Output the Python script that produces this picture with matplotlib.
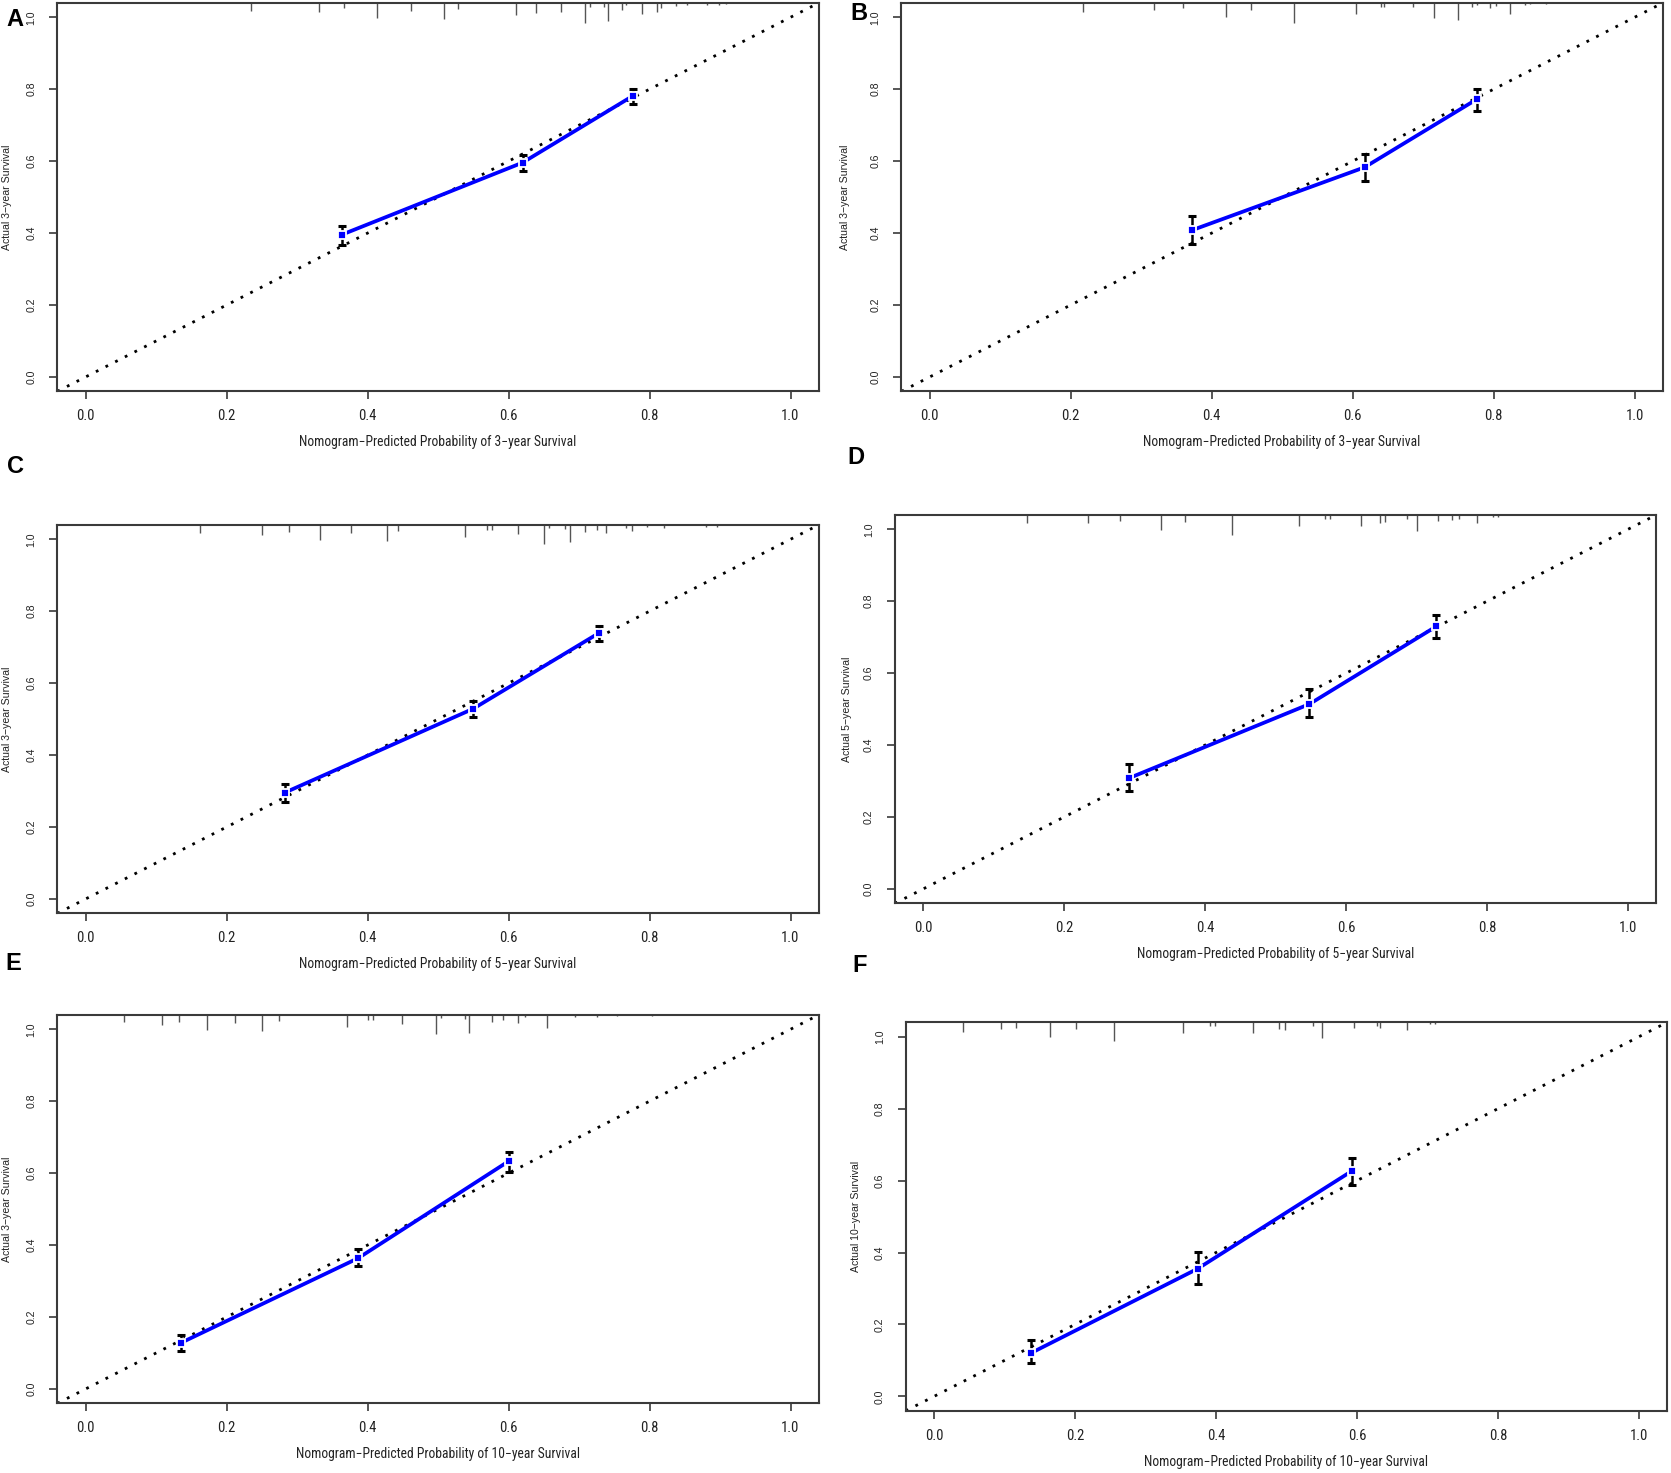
import matplotlib
matplotlib.use("Agg")
import matplotlib.pyplot as plt
from matplotlib import font_manager

# ---------------- data ----------------
panel_letters = ["A", "B", "C", "D", "E", "F"]
x_labels = [
    "Nomogram\u2212Predicted Probability of 3\u2212year Survival",
    "Nomogram\u2212Predicted Probability of 3\u2212year Survival",
    "Nomogram\u2212Predicted Probability of 5\u2212year Survival",
    "Nomogram\u2212Predicted Probability of 5\u2212year Survival",
    "Nomogram\u2212Predicted Probability of 10\u2212year Survival",
    "Nomogram\u2212Predicted Probability of 10\u2212year Survival",
]
y_labels = [
    "Actual 3\u2212year Survival",
    "Actual 3\u2212year Survival",
    "Actual 3\u2212year Survival",
    "Actual 5\u2212year Survival",
    "Actual 3\u2212year Survival",
    "Actual 10\u2212year Survival",
]
tick_values = [0.0, 0.2, 0.4, 0.6, 0.8, 1.0]
tick_labels = ["0.0", "0.2", "0.4", "0.6", "0.8", "1.0"]

pred_A = [0.364, 0.620, 0.776]
obs_A = [0.396, 0.596, 0.781]
low_A = [0.366, 0.573, 0.759]
up_A = [0.420, 0.617, 0.800]

pred_B = [0.372, 0.617, 0.776]
obs_B = [0.408, 0.583, 0.772]
low_B = [0.371, 0.545, 0.740]
up_B = [0.447, 0.620, 0.801]

pred_C = [0.283, 0.550, 0.728]
obs_C = [0.296, 0.529, 0.739]
low_C = [0.269, 0.506, 0.716]
up_C = [0.320, 0.551, 0.759]

pred_D = [0.292, 0.548, 0.728]
obs_D = [0.308, 0.514, 0.730]
low_D = [0.273, 0.477, 0.697]
up_D = [0.348, 0.556, 0.762]

pred_E = [0.135, 0.387, 0.600]
obs_E = [0.128, 0.364, 0.633]
low_E = [0.107, 0.341, 0.602]
up_E = [0.151, 0.389, 0.658]

pred_F = [0.137, 0.374, 0.593]
obs_F = [0.120, 0.355, 0.627]
low_F = [0.092, 0.313, 0.587]
up_F = [0.157, 0.401, 0.664]

# risk distribution spikes at top: positions and heights (data units)
rug_x_A = [0.235, 0.331, 0.366, 0.413, 0.461, 0.509, 0.529, 0.611, 0.639, 0.674, 0.708, 0.716,
           0.735, 0.741, 0.761, 0.767, 0.790, 0.810, 0.817, 0.837, 0.853, 0.881, 0.898, 0.909]
rug_h_A = [0.022, 0.026, 0.013, 0.041, 0.023, 0.044, 0.016, 0.033, 0.028, 0.026, 0.056, 0.011,
           0.011, 0.050, 0.020, 0.007, 0.030, 0.026, 0.013, 0.009, 0.007, 0.005, 0.005, 0.004]
rug_x_B = [0.217, 0.319, 0.359, 0.421, 0.456, 0.517, 0.605, 0.640, 0.645, 0.685, 0.715, 0.749,
           0.770, 0.776, 0.795, 0.803, 0.823, 0.844, 0.852, 0.874]
rug_h_B = [0.026, 0.020, 0.013, 0.039, 0.020, 0.056, 0.032, 0.011, 0.011, 0.011, 0.041, 0.048,
           0.011, 0.006, 0.015, 0.008, 0.032, 0.006, 0.004, 0.004]
rug_x_C = [0.162, 0.251, 0.288, 0.332, 0.377, 0.428, 0.443, 0.539, 0.569, 0.576, 0.613, 0.650,
           0.657, 0.680, 0.687, 0.708, 0.726, 0.738, 0.767, 0.775, 0.797, 0.820, 0.880, 0.896]
rug_h_C = [0.023, 0.028, 0.020, 0.041, 0.023, 0.045, 0.017, 0.033, 0.013, 0.013, 0.026, 0.054,
           0.009, 0.011, 0.048, 0.019, 0.015, 0.022, 0.009, 0.017, 0.007, 0.009, 0.005, 0.005]
rug_x_D = [0.147, 0.234, 0.280, 0.337, 0.372, 0.439, 0.533, 0.570, 0.577, 0.621, 0.648, 0.656,
           0.686, 0.701, 0.730, 0.751, 0.760, 0.786, 0.809, 0.816]
rug_h_D = [0.023, 0.023, 0.017, 0.042, 0.020, 0.056, 0.031, 0.011, 0.011, 0.031, 0.023, 0.020,
           0.011, 0.046, 0.017, 0.013, 0.011, 0.023, 0.005, 0.005]
rug_x_E = [0.054, 0.109, 0.133, 0.172, 0.212, 0.251, 0.275, 0.371, 0.401, 0.408, 0.449, 0.497,
           0.504, 0.539, 0.544, 0.576, 0.592, 0.614, 0.623, 0.655, 0.694, 0.726, 0.754, 0.803]
rug_h_E = [0.021, 0.028, 0.020, 0.041, 0.023, 0.044, 0.017, 0.033, 0.015, 0.013, 0.026, 0.054,
           0.009, 0.011, 0.050, 0.019, 0.015, 0.022, 0.007, 0.037, 0.006, 0.005, 0.004, 0.004]
rug_x_F = [0.041, 0.095, 0.117, 0.164, 0.202, 0.255, 0.353, 0.392, 0.399, 0.452, 0.490, 0.498,
           0.537, 0.551, 0.596, 0.628, 0.633, 0.671, 0.703, 0.710]
rug_h_F = [0.026, 0.020, 0.017, 0.041, 0.020, 0.053, 0.029, 0.009, 0.011, 0.029, 0.018, 0.022,
           0.009, 0.044, 0.015, 0.009, 0.015, 0.022, 0.005, 0.004]

preds = [pred_A, pred_B, pred_C, pred_D, pred_E, pred_F]
obss = [obs_A, obs_B, obs_C, obs_D, obs_E, obs_F]
lows = [low_A, low_B, low_C, low_D, low_E, low_F]
ups = [up_A, up_B, up_C, up_D, up_E, up_F]
rug_xs = [rug_x_A, rug_x_B, rug_x_C, rug_x_D, rug_x_E, rug_x_F]
rug_hs = [rug_h_A, rug_h_B, rug_h_C, rug_h_D, rug_h_E, rug_h_F]

# ---------------- fonts ----------------
avail = {f.name for f in font_manager.fontManager.ttflist}
def pick(names):
    for n in names:
        if n in avail:
            return n
    return "DejaVu Sans"
narrow = pick(["Liberation Sans Narrow", "DejaVu Sans Condensed", "Roboto Condensed", "Liberation Sans"])
regular = pick(["Liberation Sans", "Arial", "DejaVu Sans"])

# ---------------- layout (pixels) ----------------
W, H = 1671, 1473
fig = plt.figure(figsize=(W / 100, H / 100), dpi=100)
fig.patch.set_facecolor("white")

ax_w, ax_h = 761.4, 388.5
# left, top of each axes in pixels
ax_pos = [(57.3, 2.9), (901.4, 2.9), (57.3, 524.9), (894.8, 514.9), (57.3, 1014.9), (905.8, 1022.3)]
ylab_x = [7.5, 844.5, 7.5, 847.0, 7.5, 855.6]
letter_pos = [(15, 19), (859, 14), (15, 466), (856, 458), (13, 963), (860, 965)]

spine_col = "#3a3a3a"

for i in range(6):
    L, T = ax_pos[i]
    ax = fig.add_axes([L / W, 1 - (T + ax_h) / H, ax_w / W, ax_h / H])
    ax.set_xlim(-0.04, 1.04)
    ax.set_ylim(-0.04, 1.04)

    # ideal line
    ax.plot([-0.04, 1.04], [-0.04, 1.04], color="black", lw=2.0,
            linestyle=(0, (1.0, 2.9)), dash_capstyle="butt", zorder=1)

    # risk distribution spikes
    ax.vlines(rug_xs[i], [1.04 - h for h in rug_hs[i]], 1.04, color="#555555", lw=1.0, zorder=2)

    x = preds[i]
    y = obss[i]
    lo = lows[i]
    up = ups[i]
    yerr = [[y[k] - lo[k] for k in range(3)], [up[k] - y[k] for k in range(3)]]
    ax.errorbar(x, y, yerr=yerr, fmt="none", ecolor="black", elinewidth=1.8,
                capsize=3.2, capthick=2.2, zorder=3)
    ax.plot(x, y, color="#0000ff", lw=2.7, zorder=4, solid_capstyle="butt")
    ax.plot(x, y, linestyle="none", marker="s", ms=5.5, mfc="#0000ff",
            mec="white", mew=1.3, zorder=5)

    for s in ax.spines.values():
        s.set_color(spine_col)
        s.set_linewidth(1.5)

    ax.set_xticks(tick_values)
    ax.set_xticklabels(tick_labels, fontfamily=narrow, fontsize=10.5, color="#222222")
    ax.set_yticks(tick_values)
    ax.set_yticklabels(tick_labels, fontfamily=regular, fontsize=7.6, color="#222222",
                       rotation=90, va="center")
    ax.tick_params(axis="x", direction="out", length=6, width=1.2, color=spine_col, pad=7)
    ax.tick_params(axis="y", direction="out", length=6, width=1.2, color=spine_col, pad=9)

    ax.set_xlabel(x_labels[i], fontfamily=narrow, fontsize=9.8, color="#222222")
    ax.xaxis.label.set_va("center")
    ax.xaxis.set_label_coords(0.5, -51 / ax_h)
    ax.set_ylabel(y_labels[i], fontfamily=regular, fontsize=7.6, color="#222222")
    ax.yaxis.label.set_va("center")
    ax.yaxis.set_label_coords((ylab_x[i] - L) / ax_w, 0.5)

    lx, ly = letter_pos[i]
    fig.text(lx / W, 1 - ly / H, panel_letters[i], fontfamily=regular, fontweight="bold",
             fontsize=17, ha="center", va="center", color="black")

fig.savefig("out.png", dpi=100, facecolor="white")
